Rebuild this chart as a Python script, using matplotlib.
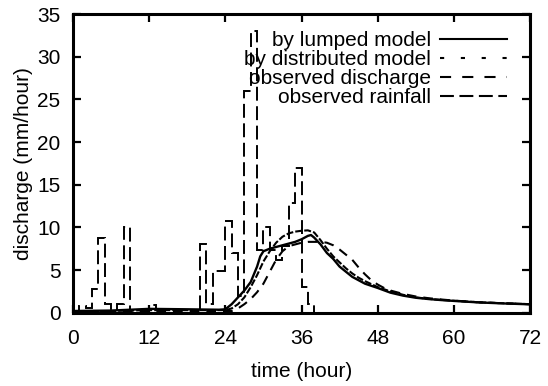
import numpy as np
import matplotlib
matplotlib.use("Agg")
import matplotlib.pyplot as plt
from matplotlib.lines import Line2D

plt.rcParams['font.family'] = ['Liberation Sans', 'DejaVu Sans']
plt.rcParams['lines.scale_dashes'] = False

# observed rainfall, hourly (value for hour h..h+1)
rain_start = list(range(0, 40))
rain = [0.0, 0.8, 0.6, 2.8, 8.8, 1.0, 0.3, 1.0, 10.0, 0.0,
        0.0, 0.0, 0.9, 0.3, 0.0, 0.0, 0.0, 0.0, 0.0, 0.0,
        8.0, 1.0, 4.9, 4.9, 10.8, 7.0, 2.0, 26.0, 33.0, 7.4,
        10.0, 7.3, 6.2, 7.8, 12.8, 17.0, 3.0, 1.0, 0.0, 0.0]

# lumped model
t_lump = [0, 6, 12, 18, 23, 24, 25, 26, 27, 28, 29, 29.5, 30, 31, 32, 33, 34, 35, 36, 37,
          37.5, 38, 39, 40, 41, 42, 43, 44, 46, 48, 50, 52, 54, 56, 58, 60, 64, 68, 72]
q_lump = [0.2, 0.25, 0.45, 0.4, 0.35, 0.4, 1.0, 1.8, 2.6, 3.6, 5.4, 6.6, 7.2, 7.5, 7.7, 7.9, 8.1, 8.3, 8.6, 9.0,
          9.1, 8.8, 8.0, 7.0, 6.3, 5.4, 4.8, 4.2, 3.4, 2.9, 2.35, 2.0, 1.75, 1.6, 1.48, 1.38, 1.2, 1.08, 0.98]

# distributed model
t_dist = [0, 12, 23, 24, 25, 26, 27, 28, 29, 30, 31, 32, 33, 34, 35, 36, 37, 38, 39, 40,
          41, 42, 43, 44, 45, 46, 48, 50, 52, 54, 56, 58, 60, 64, 68, 72]
q_dist = [0.1, 0.3, 0.3, 0.3, 0.5, 1.0, 1.8, 3.0, 4.4, 6.0, 7.2, 8.2, 8.9, 9.3, 9.5, 9.6, 9.65, 9.4, 8.5, 7.5,
          6.6, 5.9, 5.2, 4.6, 4.1, 3.7, 3.0, 2.5, 2.1, 1.8, 1.62, 1.5, 1.4, 1.22, 1.1, 1.0]

# observed discharge
t_obs = [0, 12, 24, 25, 26, 27, 28, 29, 30, 31, 32, 33, 34, 35, 36, 37, 38, 39, 40, 41,
         42, 43, 44, 45, 46, 47, 48, 49, 50, 52, 54, 56, 58, 60, 64, 68, 72]
q_obs = [0.1, 0.2, 0.2, 0.2, 0.5, 1.0, 1.6, 2.4, 3.4, 4.8, 6.2, 7.2, 7.8, 8.0, 8.2, 8.3, 8.3, 8.3, 8.2, 7.9,
         7.4, 6.8, 6.2, 5.3, 4.5, 3.8, 3.3, 2.9, 2.6, 2.2, 1.9, 1.7, 1.55, 1.42, 1.22, 1.1, 1.0]

xticks = [0, 12, 24, 36, 48, 60, 72]
yticks = [0, 5, 10, 15, 20, 25, 30, 35]

fig = plt.figure(figsize=(5.48, 3.86), dpi=100)
ax = fig.add_axes([73/548, 1-312.7/386, (530-73)/548, (312.7-14)/386])

ax.plot(t_lump, q_lump, color='black', lw=1.7, ls='-')
ax.plot(t_dist, q_dist, color='black', lw=1.5, ls=(0, (5, 1.5)))
ax.plot(t_obs, q_obs, color='black', lw=1.5, ls=(0, (7, 5)))
edges = np.append(np.array(rain_start, dtype=float), rain_start[-1] + 1)
ax.stairs(rain, edges, baseline=0, color='black', lw=1.4, ls=(0, (10, 4)))

ax.set_xlim(0, 72)
ax.set_ylim(0, 35)
ax.set_xticks(xticks)
ax.set_yticks(yticks)
ax.tick_params(direction='in', top=True, right=True, length=5.8, width=1.6,
               labelsize=15)
ax.tick_params(axis='x', pad=12)
ax.tick_params(axis='y', pad=9)
for s in ax.spines.values():
    s.set_linewidth(2.2)
ax.set_xlabel('time (hour)', fontsize=15, labelpad=10)
ax.set_ylabel('discharge (mm/hour)', fontsize=15, labelpad=3)

handles = [Line2D([], [], color='black', lw=1.5, ls='-'),
           Line2D([], [], color='black', lw=1.5, ls=(0, (3, 12))),
           Line2D([], [], color='black', lw=1.5, ls=(0, (8, 8))),
           Line2D([], [], color='black', lw=1.5, ls=(0, (10, 4)))]
labels = ['by lumped model', 'by distributed model', 'observed discharge', 'observed rainfall']
ax.legend(handles, labels, loc='upper right', bbox_to_anchor=((507-73)/457, 0.942),
          markerfirst=False, frameon=False, fontsize=15, handlelength=3.2,
          handletextpad=0.45, labelspacing=0.0, borderpad=0, borderaxespad=0)

fig.savefig('out.png', dpi=100)
